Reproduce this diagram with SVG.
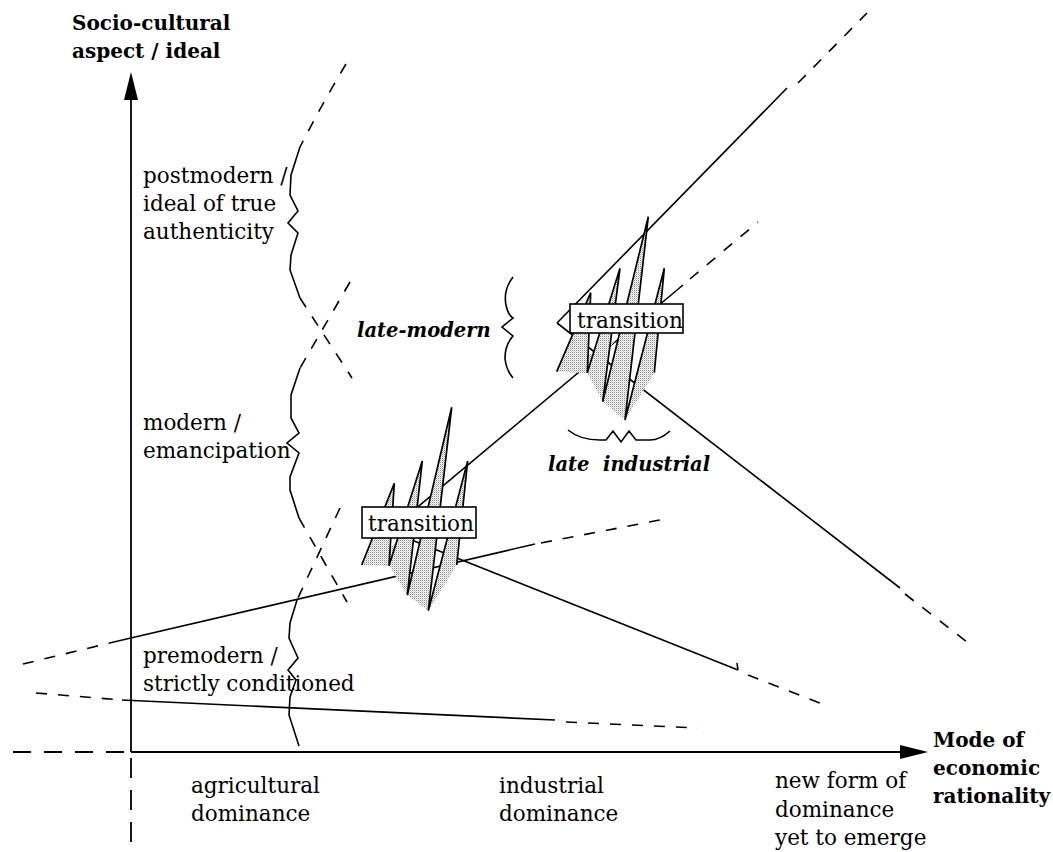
<svg xmlns="http://www.w3.org/2000/svg" width="1053" height="852" viewBox="0 0 1053 852">
<defs>
<pattern id="stip" width="2" height="2" patternUnits="userSpaceOnUse">
<rect width="2" height="2" fill="#fff"/>
<rect width="1" height="1" fill="#8a8a8a"/>
<rect x="1" y="1" width="1" height="1" fill="#d0d0d0"/>
</pattern>
<style>
.ln{fill:none;stroke:#000;stroke-width:1.6}
.ds{fill:none;stroke:#000;stroke-width:1.6;stroke-dasharray:11 11}
.ax{fill:none;stroke:#000;stroke-width:1.8}
.axd{fill:none;stroke:#000;stroke-width:1.8;stroke-dasharray:18 13}
.br{fill:none;stroke:#000;stroke-width:1.6;stroke-linejoin:miter}
.sp{fill:url(#stip);stroke:none}
.zz{fill:none;stroke:#000;stroke-width:1.7;stroke-linejoin:miter}
.box{fill:#fff;stroke:#000;stroke-width:1.6}
.t{font-family:"DejaVu Serif","Liberation Serif",serif;font-size:21.5px;fill:#000}
.b{font-family:"DejaVu Serif","Liberation Serif",serif;font-size:20px;font-weight:bold;fill:#000}
.bi{font-family:"DejaVu Serif","Liberation Serif",serif;font-size:19.5px;font-weight:bold;font-style:italic;fill:#000}
</style>
</defs>
<rect width="1053" height="852" fill="#fff"/>
<g id="axes">
<line class="ax" x1="131" y1="752" x2="131" y2="96"/>
<polygon points="131,72 124,100 138,100" fill="#000"/>
<line class="ax" x1="131" y1="752" x2="904" y2="752"/>
<polygon points="928,752 900,745 900,759" fill="#000"/>
<line class="axd" x1="13" y1="752" x2="131" y2="752"/>
<line class="axd" x1="131" y1="758" x2="131" y2="852" style="stroke-dasharray:20 12"/>
</g>
<g id="connectors">
<line class="ds" x1="23" y1="664" x2="118" y2="641"/>
<line class="ln" x1="118" y1="641" x2="535" y2="544"/>
<line class="ds" x1="541" y1="543" x2="670" y2="518"/>
<line class="ds" x1="36" y1="693" x2="122" y2="700"/>
<line class="ln" x1="122" y1="700" x2="555" y2="720"/>
<line class="ds" x1="566" y1="722" x2="698" y2="728"/>
<line class="ln" x1="389" y1="531" x2="738" y2="670"/>
<line class="ln" x1="737" y1="663" x2="738" y2="670"/>
<line class="ds" x1="748" y1="675" x2="830" y2="707"/>
<line class="ln" x1="389" y1="531" x2="683" y2="285"/>
<line class="ds" x1="690" y1="279" x2="758" y2="222"/>
<line class="ln" x1="557" y1="323" x2="787" y2="88"/>
<line class="ds" x1="798" y1="83" x2="867" y2="13"/>
<line class="ln" x1="557" y1="323" x2="900" y2="588"/>
<line class="ds" x1="905" y1="594" x2="972" y2="646"/>
</g>
<g id="era-boundaries">
<path class="ds" d="M346,64 Q322,104 300,147"/>
<path class="br" d="M300,147 L291,175 L290,195 L298,211 L288,223 L298,233 L291,255 L290,270 L300,298"/>
<path class="ds" d="M300,298 L352,378"/>
<path class="ds" d="M350,282 L300,368"/>
<path class="br" d="M300,368 L291,395 L291,418 L299,433 L287,443 L299,453 L290,477 L290,490 L299,518"/>
<path class="ds" d="M299,518 L347,602"/>
<path class="ds" d="M340,508 L297,600"/>
<path class="br" d="M297,600 L290,623 L289,638 L298,658 L288,670 L296,680 L290,697 L289,715 L299,746"/>
</g>
<g id="brace-late-modern">
<path class="br" d="M513,277 Q503,290 506,305 Q508,315 513,318 L502,327 L513,336 Q505,345 505,358 Q506,370 513,378"/>
</g>
<g id="brace-late-industrial">
<path class="br" d="M568,430 Q580,440 600,440 L606,440 L613,431 L621,442 L629,431 L636,440 L650,440 Q660,440 670,431"/>
</g>
<g id="transition-1">
<polygon class="sp" points="361.7,565 394.3,483.3 389,565.7"/>
<polygon class="sp" points="389,565.7 422.3,461 407.3,595"/>
<polygon class="sp" points="407.3,595 451.7,407.3 428.3,610.7"/>
<polygon class="sp" points="428.3,610.7 467.7,461 456.7,565"/>
<polygon class="sp" points="361.7,565 420,528 389,565.7"/>
<polyline class="zz" points="361.7,565 394.3,483.3 389,565.7 422.3,461 407.3,595 451.7,407.3 428.3,610.7 467.7,461 456.7,565"/>
<rect class="box" x="362" y="507" width="114" height="31"/>
<text class="t" x="368" y="531">transition</text>
</g>
<g id="transition-2">
<polygon class="sp" points="556.7,371.7 590.7,292.7 587.3,372.7"/>
<polygon class="sp" points="587.3,372.7 620,268.3 602.7,401.7"/>
<polygon class="sp" points="602.7,401.7 648.3,216.7 625,420"/>
<polygon class="sp" points="625,420 664.3,268.3 654.3,372.7"/>
<polygon class="sp" points="556.7,371.7 616,340 587.3,372.7"/>
<polyline class="zz" points="556.7,371.7 590.7,292.7 587.3,372.7 620,268.3 602.7,401.7 648.3,216.7 625,420 664.3,268.3 654.3,372.7"/>
<rect class="box" x="570" y="304" width="113" height="29"/>
<text class="t" x="577" y="328">transition</text>
</g>
<g id="labels">
<text class="b" x="72" y="30">Socio-cultural</text>
<text class="b" x="72" y="58">aspect / ideal</text>
<text class="t" x="143" y="183">postmodern /</text>
<text class="t" x="143" y="211">ideal of true</text>
<text class="t" x="143" y="239">authenticity</text>
<text class="bi" x="357" y="337">late-modern</text>
<text class="t" x="143" y="430">modern /</text>
<text class="t" x="143" y="458">emancipation</text>
<text class="bi" x="548" y="471" xml:space="preserve">late  industrial</text>
<text class="t" x="143" y="663">premodern /</text>
<text class="t" x="143" y="691">strictly conditioned</text>
<text class="t" x="191" y="793">agricultural</text>
<text class="t" x="191" y="821">dominance</text>
<text class="t" x="499" y="793">industrial</text>
<text class="t" x="499" y="821">dominance</text>
<text class="t" x="775" y="788">new form of</text>
<text class="t" x="775" y="817">dominance</text>
<text class="t" x="775" y="845">yet to emerge</text>
<text class="b" x="933" y="747">Mode of</text>
<text class="b" x="933" y="775">economic</text>
<text class="b" x="933" y="803">rationality</text>
</g>
</svg>
